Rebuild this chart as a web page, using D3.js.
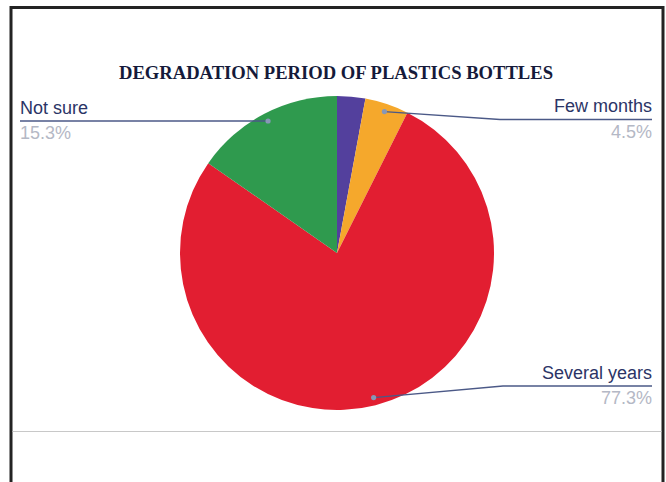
<!DOCTYPE html>
<html>
<head>
<meta charset="utf-8">
<script src="https://cdn.jsdelivr.net/npm/d3@7"></script>
<style>
  html, body { margin: 0; padding: 0; background: #fff; }
  svg { display: block; }
</style>
</head>
<body>
<svg id="chart" width="666" height="482"></svg>
<script>
// Survey answers: how long a plastic bottle takes to degrade
const categories = ["Less than a month", "Few months", "Several years", "Not sure"];
const shares = [2.9, 4.5, 77.3, 15.3];
const percentLabels = ["2.9%", "4.5%", "77.3%", "15.3%"];
const labelledCategories = ["Few months", "Several years", "Not sure"];
const titleText = "DEGRADATION PERIOD OF PLASTICS BOTTLES";

const colors = d3.scaleOrdinal()
  .domain(categories)
  .range(["#53409d", "#f5a82c", "#e21e31", "#2f9a4e"]);

const svg = d3.select("#chart");
const W = 666, H = 482;

svg.append("rect").attr("width", W).attr("height", H).attr("fill", "#fff");

// outer frame (open at the bottom edge of the canvas)
svg.append("path")
  .attr("d", "M11,482 V7.5 H663 V482")
  .attr("fill", "none")
  .attr("stroke", "#232323")
  .attr("stroke-width", 3);

// faint divider under the chart area
svg.append("line")
  .attr("x1", 12.5).attr("x2", 661.5)
  .attr("y1", 431.5).attr("y2", 431.5)
  .attr("stroke", "#c8c8c8")
  .attr("stroke-width", 1);

// title
svg.append("text")
  .attr("x", 336).attr("y", 78.5)
  .attr("text-anchor", "middle")
  .attr("font-family", "'Liberation Serif', 'Times New Roman', serif")
  .attr("font-weight", "bold")
  .attr("font-size", 18)
  .attr("textLength", 434)
  .attr("lengthAdjust", "spacingAndGlyphs")
  .attr("fill", "#151a3a")
  .text(titleText);

// pie
const cx = 337, cy = 253, R = 157;
const g = svg.append("g").attr("transform", `translate(${cx},${cy})`);

const pie = d3.pie().sort(null).value(d => d.v)
  .startAngle(0).endAngle(2 * Math.PI);
const data = categories.map((c, i) => ({ c, v: shares[i], p: percentLabels[i] }));
const arcs = pie(data);
const arc = d3.arc().innerRadius(0).outerRadius(R);

g.selectAll("path.slice")
  .data(arcs)
  .join("path")
  .attr("class", "slice")
  .attr("d", arc)
  .attr("fill", d => colors(d.data.c));

// label placement for the annotated slices
const labelLayout = {
  "Not sure":      { side: "left",  x: 20,  lineY: 121,   elbowX: null },
  "Few months":    { side: "right", x: 652, lineY: 119.5, elbowX: 500 },
  "Several years": { side: "right", x: 652, lineY: 386,   elbowX: 503 }
};

const anchorR = R * 0.95;
const lab = svg.append("g");

arcs.filter(d => labelledCategories.includes(d.data.c)).forEach(d => {
  const L = labelLayout[d.data.c];
  const mid = (d.startAngle + d.endAngle) / 2;
  const px = cx + Math.sin(mid) * anchorR;
  const py = cy - Math.cos(mid) * anchorR;

  const pts = [[px, py]];
  if (L.elbowX !== null) pts.push([L.elbowX, L.lineY]);
  else pts[0][1] = L.lineY;
  pts.push([L.x, L.lineY]);

  lab.append("path")
    .attr("d", d3.line()(pts))
    .attr("fill", "none")
    .attr("stroke", "#4b5987")
    .attr("stroke-width", 1.3);

  lab.append("circle")
    .attr("cx", pts[0][0]).attr("cy", pts[0][1])
    .attr("r", 2.6)
    .attr("fill", "#8797b6");

  const anchor = L.side === "left" ? "start" : "end";
  lab.append("text")
    .attr("x", L.x).attr("y", L.lineY - 7.5)
    .attr("text-anchor", anchor)
    .attr("font-family", "'Liberation Sans', Arial, sans-serif")
    .attr("font-size", 18)
    .attr("fill", "#2b3466")
    .text(d.data.c);

  lab.append("text")
    .attr("x", L.x).attr("y", L.lineY + 18)
    .attr("text-anchor", anchor)
    .attr("font-family", "'Liberation Sans', Arial, sans-serif")
    .attr("font-size", 18)
    .attr("fill", "#b4b8c5")
    .text(d.data.p);
});
</script>
</body>
</html>
